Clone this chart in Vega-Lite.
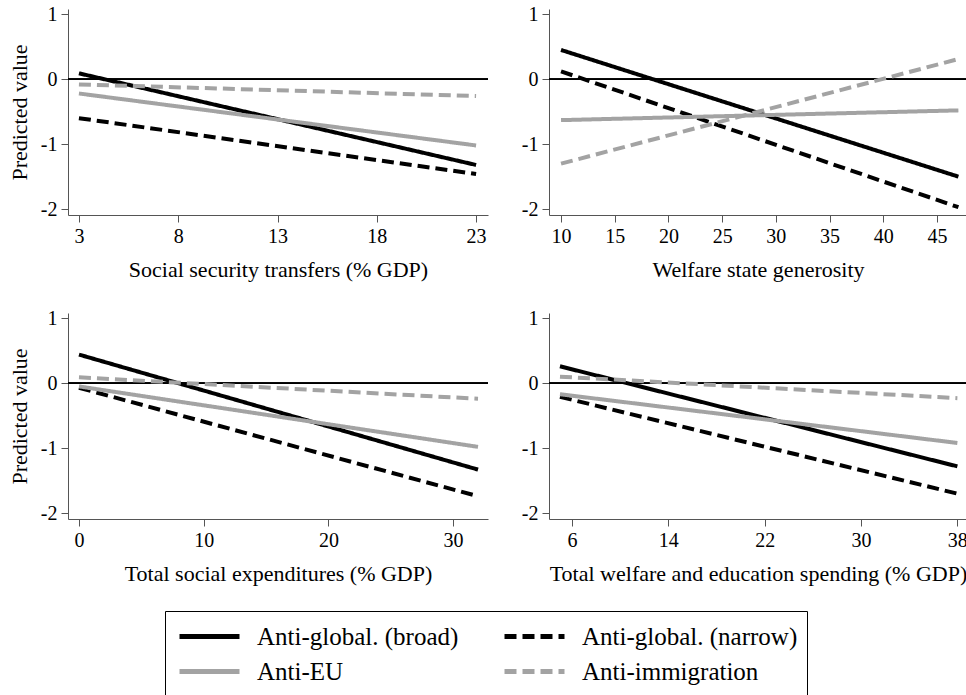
{
  "$schema": "https://vega.github.io/schema/vega-lite/v6.json",
  "background": "white",
  "padding": {"left": 8, "top": 4, "right": 0, "bottom": 0},
  "config": {
    "view": {"stroke": null},
    "font": "Liberation Serif, Nimbus Roman, Tinos, DejaVu Serif",
    "axis": {
      "labelFont": "Liberation Serif, Nimbus Roman, Tinos, DejaVu Serif", "titleFont": "Liberation Serif, Nimbus Roman, Tinos, DejaVu Serif",
      "labelFontSize": 20, "titleFontSize": 22, "titleFontWeight": "normal",
      "labelColor": "black", "titleColor": "black",
      "domainColor": "#555555", "tickColor": "#555555", "grid": false,
      "tickSize": 7, "labelPadding": 4
    },
    "axisX": {"titlePadding": 13},
    "axisY": {"titlePadding": 9},
    "legend": {
      "labelFont": "Liberation Serif, Nimbus Roman, Tinos, DejaVu Serif", "labelFontSize": 25, "labelColor": "black", "labelLimit": 0,
      "symbolType": "stroke", "symbolSize": 3600, "symbolStrokeWidth": 5, "symbolOffset": 3,
      "clipHeight": 33,
      "labelOffset": 15, "columnPadding": 40, "rowPadding": 2,
      "strokeColor": "black", "fillColor": "white", "padding": 9, "columns": 2, "direction": "horizontal"
    }
  },
  "datasets": {
    "lines": [
      {"panel": "p1", "series": "Anti-global. (broad)", "x": 3, "y": 0.09},
      {"panel": "p1", "series": "Anti-global. (broad)", "x": 23, "y": -1.32},
      {"panel": "p1", "series": "Anti-global. (narrow)", "x": 3, "y": -0.60},
      {"panel": "p1", "series": "Anti-global. (narrow)", "x": 23, "y": -1.46},
      {"panel": "p1", "series": "Anti-EU", "x": 3, "y": -0.22},
      {"panel": "p1", "series": "Anti-EU", "x": 23, "y": -1.02},
      {"panel": "p1", "series": "Anti-immigration", "x": 3, "y": -0.08},
      {"panel": "p1", "series": "Anti-immigration", "x": 23, "y": -0.26},
      {"panel": "p2", "series": "Anti-global. (broad)", "x": 10, "y": 0.45},
      {"panel": "p2", "series": "Anti-global. (broad)", "x": 47, "y": -1.50},
      {"panel": "p2", "series": "Anti-global. (narrow)", "x": 10, "y": 0.12},
      {"panel": "p2", "series": "Anti-global. (narrow)", "x": 47, "y": -1.97},
      {"panel": "p2", "series": "Anti-EU", "x": 10, "y": -0.63},
      {"panel": "p2", "series": "Anti-EU", "x": 47, "y": -0.48},
      {"panel": "p2", "series": "Anti-immigration", "x": 10, "y": -1.30},
      {"panel": "p2", "series": "Anti-immigration", "x": 47, "y": 0.31},
      {"panel": "p3", "series": "Anti-global. (broad)", "x": 0, "y": 0.44},
      {"panel": "p3", "series": "Anti-global. (broad)", "x": 32, "y": -1.33},
      {"panel": "p3", "series": "Anti-global. (narrow)", "x": 0, "y": -0.07},
      {"panel": "p3", "series": "Anti-global. (narrow)", "x": 32, "y": -1.74},
      {"panel": "p3", "series": "Anti-EU", "x": 0, "y": -0.05},
      {"panel": "p3", "series": "Anti-EU", "x": 32, "y": -0.98},
      {"panel": "p3", "series": "Anti-immigration", "x": 0, "y": 0.09},
      {"panel": "p3", "series": "Anti-immigration", "x": 32, "y": -0.24},
      {"panel": "p4", "series": "Anti-global. (broad)", "x": 5, "y": 0.26},
      {"panel": "p4", "series": "Anti-global. (broad)", "x": 38, "y": -1.28},
      {"panel": "p4", "series": "Anti-global. (narrow)", "x": 5, "y": -0.21},
      {"panel": "p4", "series": "Anti-global. (narrow)", "x": 38, "y": -1.70},
      {"panel": "p4", "series": "Anti-EU", "x": 5, "y": -0.17},
      {"panel": "p4", "series": "Anti-EU", "x": 38, "y": -0.92},
      {"panel": "p4", "series": "Anti-immigration", "x": 5, "y": 0.10},
      {"panel": "p4", "series": "Anti-immigration", "x": 38, "y": -0.23}
    ]
  },
  "columns": 2,
  "bounds": "flush",
  "spacing": {"row": 98, "column": 61},
  "concat": [
    {
      "width": 420, "height": 206,
      "data": {"name": "lines"},
      "transform": [{"filter": "datum.panel == 'p1'"}],
      "layer": [
        {"mark": {"type": "rule", "color": "black", "strokeWidth": 1}, "encoding": {"y": {"datum": 0, "type": "quantitative"}}},
        {"mark": {"type": "line", "strokeWidth": 4, "clip": true},
         "encoding": {
          "x": {"field": "x", "type": "quantitative", "scale": {"domain": [2.45, 23.6], "nice": false, "zero": false}, "axis": {"values": [3, 8, 13, 18, 23], "title": "Social security transfers (% GDP)"}},
          "y": {"field": "y", "type": "quantitative", "scale": {"domain": [-2.09, 1.08], "nice": false, "zero": false}, "axis": {"values": [-2, -1, 0, 1], "title": "Predicted value", "labelExpr": "datum.value < 0 ? '-' + abs(datum.value) : '' + datum.value"}},
          "color": {"field": "series", "type": "nominal", "scale": {"domain": ["Anti-global. (broad)", "Anti-global. (narrow)", "Anti-EU", "Anti-immigration"], "range": ["#000000", "#000000", "#a3a3a3", "#a3a3a3"]}, "legend": {"title": null, "orient": "none", "legendX": 97, "legendY": 602}},
          "strokeDash": {"field": "series", "type": "nominal", "scale": {"domain": ["Anti-global. (broad)", "Anti-global. (narrow)", "Anti-EU", "Anti-immigration"], "range": [[1, 0], [12, 6], [1, 0], [12, 6]]}, "legend": {"title": null, "orient": "none", "legendX": 97, "legendY": 602}}
         }}
      ]
    },
    {
      "width": 418, "height": 206,
      "data": {"name": "lines"},
      "transform": [{"filter": "datum.panel == 'p2'"}],
      "layer": [
        {"mark": {"type": "rule", "color": "black", "strokeWidth": 1}, "encoding": {"y": {"datum": 0, "type": "quantitative"}}},
        {"mark": {"type": "line", "strokeWidth": 4, "clip": true},
         "encoding": {
          "x": {"field": "x", "type": "quantitative", "scale": {"domain": [8.88, 47.8], "nice": false, "zero": false}, "axis": {"values": [10, 15, 20, 25, 30, 35, 40, 45], "title": "Welfare state generosity"}},
          "y": {"field": "y", "type": "quantitative", "scale": {"domain": [-2.09, 1.08], "nice": false, "zero": false}, "axis": {"values": [-2, -1, 0, 1], "title": null, "labelExpr": "datum.value < 0 ? '-' + abs(datum.value) : '' + datum.value"}},
          "color": {"field": "series", "type": "nominal", "scale": {"domain": ["Anti-global. (broad)", "Anti-global. (narrow)", "Anti-EU", "Anti-immigration"], "range": ["#000000", "#000000", "#a3a3a3", "#a3a3a3"]}, "legend": {"title": null, "orient": "none", "legendX": 97, "legendY": 602}},
          "strokeDash": {"field": "series", "type": "nominal", "scale": {"domain": ["Anti-global. (broad)", "Anti-global. (narrow)", "Anti-EU", "Anti-immigration"], "range": [[1, 0], [12, 6], [1, 0], [12, 6]]}, "legend": {"title": null, "orient": "none", "legendX": 97, "legendY": 602}}
         }}
      ]
    },
    {
      "width": 420, "height": 206,
      "data": {"name": "lines"},
      "transform": [{"filter": "datum.panel == 'p3'"}],
      "layer": [
        {"mark": {"type": "rule", "color": "black", "strokeWidth": 1}, "encoding": {"y": {"datum": 0, "type": "quantitative"}}},
        {"mark": {"type": "line", "strokeWidth": 4, "clip": true},
         "encoding": {
          "x": {"field": "x", "type": "quantitative", "scale": {"domain": [-0.88, 32.8], "nice": false, "zero": false}, "axis": {"values": [0, 10, 20, 30], "title": "Total social expenditures (% GDP)"}},
          "y": {"field": "y", "type": "quantitative", "scale": {"domain": [-2.09, 1.08], "nice": false, "zero": false}, "axis": {"values": [-2, -1, 0, 1], "title": "Predicted value", "labelExpr": "datum.value < 0 ? '-' + abs(datum.value) : '' + datum.value"}},
          "color": {"field": "series", "type": "nominal", "scale": {"domain": ["Anti-global. (broad)", "Anti-global. (narrow)", "Anti-EU", "Anti-immigration"], "range": ["#000000", "#000000", "#a3a3a3", "#a3a3a3"]}, "legend": {"title": null, "orient": "none", "legendX": 97, "legendY": 602}},
          "strokeDash": {"field": "series", "type": "nominal", "scale": {"domain": ["Anti-global. (broad)", "Anti-global. (narrow)", "Anti-EU", "Anti-immigration"], "range": [[1, 0], [12, 6], [1, 0], [12, 6]]}, "legend": {"title": null, "orient": "none", "legendX": 97, "legendY": 602}}
         }}
      ]
    },
    {
      "width": 418, "height": 206,
      "data": {"name": "lines"},
      "transform": [{"filter": "datum.panel == 'p4'"}],
      "layer": [
        {"mark": {"type": "rule", "color": "black", "strokeWidth": 1}, "encoding": {"y": {"datum": 0, "type": "quantitative"}}},
        {"mark": {"type": "line", "strokeWidth": 4, "clip": true},
         "encoding": {
          "x": {"field": "x", "type": "quantitative", "scale": {"domain": [4.09, 38.8], "nice": false, "zero": false}, "axis": {"values": [6, 14, 22, 30, 38], "title": "Total welfare and education spending (% GDP)"}},
          "y": {"field": "y", "type": "quantitative", "scale": {"domain": [-2.09, 1.08], "nice": false, "zero": false}, "axis": {"values": [-2, -1, 0, 1], "title": null, "labelExpr": "datum.value < 0 ? '-' + abs(datum.value) : '' + datum.value"}},
          "color": {"field": "series", "type": "nominal", "scale": {"domain": ["Anti-global. (broad)", "Anti-global. (narrow)", "Anti-EU", "Anti-immigration"], "range": ["#000000", "#000000", "#a3a3a3", "#a3a3a3"]}, "legend": {"title": null, "orient": "none", "legendX": 97, "legendY": 602}},
          "strokeDash": {"field": "series", "type": "nominal", "scale": {"domain": ["Anti-global. (broad)", "Anti-global. (narrow)", "Anti-EU", "Anti-immigration"], "range": [[1, 0], [12, 6], [1, 0], [12, 6]]}, "legend": {"title": null, "orient": "none", "legendX": 97, "legendY": 602}}
         }}
      ]
    }
  ]
}
